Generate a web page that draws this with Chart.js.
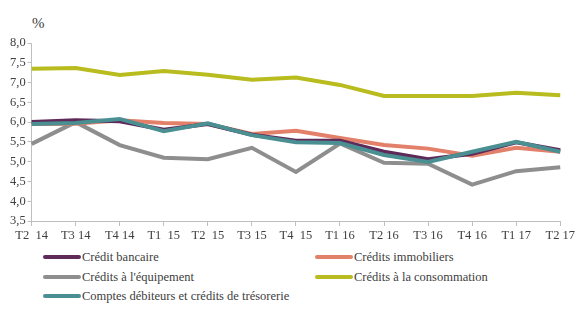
<!DOCTYPE html>
<html>
<head>
<meta charset="utf-8">
<script src="https://cdn.jsdelivr.net/npm/chart.js@4.4.1/dist/chart.umd.min.js"></script>
<style>
  body { margin: 0; background: #fff; width: 577px; height: 309px; overflow: hidden; position: relative; font-family: 'Liberation Serif', 'Times New Roman', Times, 'DejaVu Serif', serif; color: #404040; }
  #wrap { position: absolute; left: 0; top: 0; width: 577px; height: 245px; }
  #unit { position: absolute; left: 32px; top: 15px; font-size: 15px; }
  .leg { position: absolute; font-size: 12.5px; white-space: nowrap; line-height: 14px; }
  .leg span.ln { position: absolute; top: 5px; height: 4px; width: 38px; border-radius: 2px; }
</style>
</head>
<body>
<div id="unit">%</div>
<div id="wrap"><canvas id="graf"></canvas></div>
<div id="legend"></div>
<script>
// trimestres
const trimestres = ["T2  14", "T3 14", "T4 14", "T1  15", "T2  15", "T3 15", "T4  15", "T1 16", "T2 16", "T3 16", "T4 16", "T1 17", "T2 17"];

// séries (%)
const creditBancaire   = [6.00, 6.05, 6.02, 5.81, 5.95, 5.68, 5.53, 5.53, 5.25, 5.06, 5.20, 5.49, 5.29];
const creditsImmo      = [5.95, 5.96, 6.05, 5.98, 5.95, 5.70, 5.78, 5.60, 5.42, 5.33, 5.15, 5.35, 5.25];
const creditsEquip     = [5.45, 6.00, 5.42, 5.10, 5.06, 5.35, 4.74, 5.46, 4.97, 4.95, 4.42, 4.76, 4.86];
const creditsConso     = [7.35, 7.37, 7.19, 7.29, 7.20, 7.07, 7.13, 6.94, 6.66, 6.66, 6.66, 6.74, 6.68];
const comptesDebiteurs = [5.95, 5.98, 6.08, 5.77, 5.97, 5.67, 5.49, 5.47, 5.17, 4.99, 5.25, 5.50, 5.25];

const yTicks = [3.5, 4.0, 4.5, 5.0, 5.5, 6.0, 6.5, 7.0, 7.5, 8.0];

const series = [
  { label: "Crédit bancaire", data: creditBancaire, color: "#5E2A5A", order: 1 },
  { label: "Crédits immobiliers", data: creditsImmo, color: "#E2806A", order: 2 },
  { label: "Crédits à l'équipement", data: creditsEquip, color: "#8E8E8E", order: 3 },
  { label: "Crédits à la consommation", data: creditsConso, color: "#B9BC1E", order: 4 },
  { label: "Comptes débiteurs et crédits de trésorerie", data: comptesDebiteurs, color: "#4A8F92", order: 0 }
];

const serif = "'Liberation Serif', 'Times New Roman', Times, 'DejaVu Serif', serif";

const ctx = document.getElementById("graf").getContext("2d");
new Chart(ctx, {
  type: "line",
  data: {
    labels: trimestres,
    datasets: series.map(s => ({
      label: s.label,
      data: s.data,
      borderColor: s.color,
      backgroundColor: s.color,
      borderWidth: 4,
      tension: 0,
      fill: false,
      pointRadius: 0,
      order: s.order
    }))
  },
  options: {
    responsive: true,
    maintainAspectRatio: false,
    animation: false,
    layout: { padding: { top: 43, left: 8, right: 15, bottom: 0 } },
    plugins: { legend: { display: false }, tooltip: { enabled: false } },
    scales: {
      x: {
        offset: false,
        grid: { display: true, drawOnChartArea: false, color: "#BFBFBF", tickLength: 5, offset: false },
        border: { color: "#BFBFBF" },
        ticks: { color: "#404040", font: { family: serif, size: 12.5 }, maxRotation: 0, autoSkip: false, padding: 2 }
      },
      y: {
        min: 3.5,
        max: 8,
        afterBuildTicks: axis => { axis.ticks = yTicks.map(v => ({ value: v })); },
        grid: { display: true, drawOnChartArea: false, color: "#BFBFBF", tickLength: 4 },
        border: { color: "#BFBFBF" },
        ticks: {
          color: "#404040",
          font: { family: serif, size: 12.5 },
          padding: 2,
          callback: v => v.toFixed(1).replace(".", ",")
        }
      }
    }
  }
});

// légende en deux colonnes
const legPos = [[43, 250], [315, 250], [43, 270], [315, 270], [43, 289]];
const legend = document.getElementById("legend");
series.forEach((s, i) => {
  const d = document.createElement("div");
  d.className = "leg";
  d.style.left = legPos[i][0] + "px";
  d.style.top = legPos[i][1] + "px";
  d.style.paddingLeft = "39px";
  d.innerHTML = '<span class="ln" style="left:0;background:' + s.color + '"></span>' + s.label;
  legend.appendChild(d);
});
</script>
</body>
</html>
